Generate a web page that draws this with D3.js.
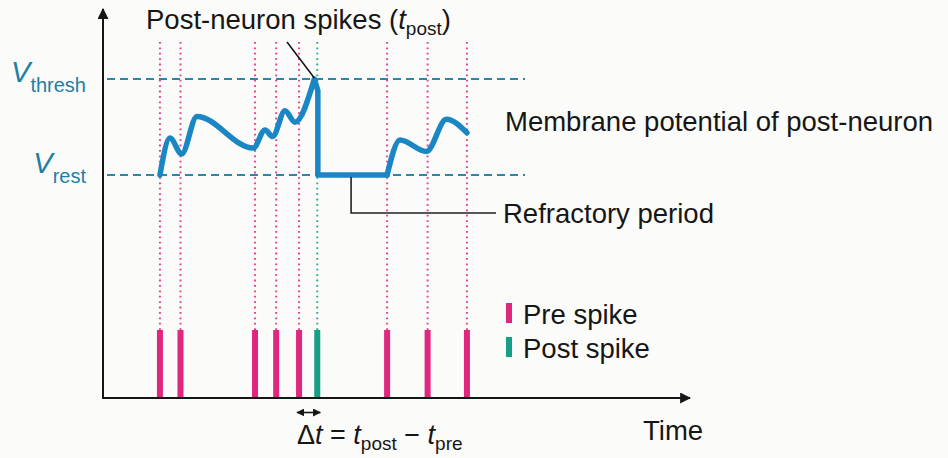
<!DOCTYPE html>
<html>
<head>
<meta charset="utf-8">
<script src="https://cdn.jsdelivr.net/npm/d3@7"></script>
<style>
  html, body { margin: 0; padding: 0; background: #fbfbf9; }
  svg { display: block; font-family: "Liberation Sans", Arial, Helvetica, sans-serif; }
</style>
</head>
<body>
<svg id="chart" width="948" height="458"></svg>
<script>
// Spike times (ms) of the presynaptic and postsynaptic neurons
const preSpikes = [9.7, 13.2, 25.9, 29.5, 33.4, 48.4, 55.3, 62.0];
const postSpikes = [36.5];

// Membrane potential of the post-neuron, normalised: 0 = V_rest, 1 = V_thresh
const membraneRise = [
  [9.7, 0], [11.4, 0.385], [13.4, 0.22], [16.0, 0.61], [25.6, 0.28],
  [27.6, 0.47], [28.9, 0.40], [31.0, 0.67], [32.7, 0.55], [36.0, 1.0]
];
const membraneReset = [[36.6, 0.88], [36.6, 0], [48.4, 0]];
const membraneRecover = [
  [48.4, 0], [50.6, 0.365], [55.1, 0.245], [58.5, 0.58], [62.0, 0.44]
];

const refractory = [36.6, 48.4];
const potentialLevels = [
  { name: "thresh", v: 1 },
  { name: "rest", v: 0 }
];
const legendItems = [
  { label: "Pre spike", kind: "pre" },
  { label: "Post spike", kind: "post" }
];

const colors = {
  pre: "#e0267f",
  post: "#159f86",
  potential: "#1a86c3",
  level: "#2a87a8",
  ink: "#161616"
};

const svg = d3.select("#chart");

const x = d3.scaleLinear().domain([0, 100]).range([103, 690]);
const y = d3.scaleLinear().domain([0, 1]).range([175, 79]);

const axisY = 398;      // time axis position
const rasterTop = 330;  // top of spike raster bars
const guideTop = 42;    // top of the dotted spike guides
const labelSize = 27.5;

// Arrowheads
const defs = svg.append("defs");
defs.append("marker")
  .attr("id", "axisHead").attr("viewBox", "0 0 10 10")
  .attr("refX", 9).attr("refY", 5)
  .attr("markerWidth", 5.5).attr("markerHeight", 5.5)
  .attr("markerUnits", "strokeWidth").attr("orient", "auto")
  .append("path").attr("d", "M0,0 L10,5 L0,10 Z").attr("fill", colors.ink);
defs.append("marker")
  .attr("id", "smallHead").attr("viewBox", "0 0 10 10")
  .attr("refX", 9).attr("refY", 5)
  .attr("markerWidth", 5).attr("markerHeight", 5)
  .attr("markerUnits", "strokeWidth").attr("orient", "auto-start-reverse")
  .append("path").attr("d", "M0,0 L10,5 L0,10 Z").attr("fill", colors.ink);

// Dotted guides from each spike
svg.append("g").selectAll("line.pre")
  .data(preSpikes).join("line")
  .attr("x1", d => x(d)).attr("x2", d => x(d))
  .attr("y1", guideTop).attr("y2", rasterTop)
  .attr("stroke", colors.pre).attr("stroke-width", 2)
  .attr("stroke-dasharray", "1.8,3.6").attr("opacity", 0.85);
svg.append("g").selectAll("line.post")
  .data(postSpikes).join("line")
  .attr("x1", d => x(d)).attr("x2", d => x(d))
  .attr("y1", guideTop).attr("y2", rasterTop)
  .attr("stroke", colors.post).attr("stroke-width", 2)
  .attr("stroke-dasharray", "1.8,3.6").attr("opacity", 0.85);

// V_thresh / V_rest dashed levels
svg.append("g").selectAll("line")
  .data(potentialLevels).join("line")
  .attr("x1", 107).attr("x2", 525)
  .attr("y1", d => y(d.v)).attr("y2", d => y(d.v))
  .attr("stroke", colors.level).attr("stroke-width", 2)
  .attr("stroke-dasharray", "8,5");

// Level labels
const levelLabel = svg.append("g").selectAll("text")
  .data(potentialLevels).join("text")
  .attr("x", 86).attr("y", d => y(d.v) + (d.v === 1 ? 3 : -2))
  .attr("text-anchor", "end")
  .attr("fill", "#1e7fa6");
levelLabel.append("tspan")
  .attr("font-size", 29).attr("font-style", "italic").text("V");
levelLabel.append("tspan")
  .attr("font-size", 20).attr("dy", 10).text(d => d.name);

// Membrane potential trace
const smooth = d3.line().x(d => x(d[0])).y(d => y(d[1])).curve(d3.curveMonotoneX);
const straight = d3.line().x(d => x(d[0])).y(d => y(d[1]));
const tracePath = smooth(membraneRise)
  + straight(membraneReset).replace(/^M/, "L");
svg.append("path")
  .attr("d", tracePath)
  .attr("fill", "none").attr("stroke", colors.potential)
  .attr("stroke-width", 5.5).attr("stroke-linejoin", "round").attr("stroke-linecap", "round");
svg.append("path")
  .attr("d", smooth(membraneRecover))
  .attr("fill", "none").attr("stroke", colors.potential)
  .attr("stroke-width", 5.5).attr("stroke-linejoin", "round").attr("stroke-linecap", "round");

// Refractory period leader
const refMid = x(refractory[0]) + (x(refractory[1]) - x(refractory[0])) * 0.48;
svg.append("path")
  .attr("d", `M${refMid},${y(0) + 2} V213 H496`)
  .attr("fill", "none").attr("stroke", "#222").attr("stroke-width", 1.6);
svg.append("text")
  .attr("x", 503).attr("y", 223).attr("font-size", labelSize).attr("fill", colors.ink)
  .text("Refractory period");

// Post-neuron spike leader and title
svg.append("line")
  .attr("x1", 287).attr("y1", 42)
  .attr("x2", x(36.0)).attr("y2", y(1) - 1)
  .attr("stroke", "#111").attr("stroke-width", 1.5);
const title = svg.append("text")
  .attr("x", 146).attr("y", 29).attr("font-size", labelSize).attr("fill", colors.ink);
title.append("tspan").text("Post-neuron spikes (");
title.append("tspan").attr("font-style", "italic").text("t");
title.append("tspan").attr("font-size", 19).attr("dy", 6).text("post");
title.append("tspan").attr("dy", -6).text(")");

svg.append("text")
  .attr("x", 505).attr("y", 131).attr("font-size", labelSize).attr("fill", colors.ink)
  .text("Membrane potential of post-neuron");

// Spike raster
svg.append("g").selectAll("rect")
  .data(preSpikes.map(t => ({ t, kind: "pre" })).concat(postSpikes.map(t => ({ t, kind: "post" }))))
  .join("rect")
  .attr("x", d => x(d.t) - 3).attr("width", 6)
  .attr("y", rasterTop).attr("height", axisY - rasterTop)
  .attr("fill", d => colors[d.kind]);

// Axes
svg.append("line")
  .attr("x1", 103).attr("y1", axisY).attr("x2", 103).attr("y2", 9)
  .attr("stroke", colors.ink).attr("stroke-width", 2).attr("marker-end", "url(#axisHead)");
svg.append("line")
  .attr("x1", 102).attr("y1", axisY).attr("x2", 690).attr("y2", axisY)
  .attr("stroke", colors.ink).attr("stroke-width", 2).attr("marker-end", "url(#axisHead)");
svg.append("text")
  .attr("x", 643).attr("y", 440).attr("font-size", labelSize).attr("fill", colors.ink)
  .text("Time");

// Legend
const legend = svg.append("g").selectAll("g")
  .data(legendItems).join("g")
  .attr("transform", (d, i) => `translate(506,${303 + i * 34})`);
legend.append("rect")
  .attr("width", 6).attr("height", 20)
  .attr("fill", d => colors[d.kind]);
legend.append("text")
  .attr("x", 17).attr("y", 21).attr("font-size", labelSize).attr("fill", colors.ink)
  .text(d => d.label);

// Δt between the last pre spike and the post spike
const lastPre = preSpikes.filter(t => t < postSpikes[0]).pop();
svg.append("line")
  .attr("x1", x(lastPre) - 2).attr("x2", x(postSpikes[0]) + 3)
  .attr("y1", 412.5).attr("y2", 412.5)
  .attr("stroke", colors.ink).attr("stroke-width", 1.6)
  .attr("marker-start", "url(#smallHead)").attr("marker-end", "url(#smallHead)");
const dt = svg.append("text")
  .attr("x", 297).attr("y", 444).attr("font-size", 27).attr("fill", colors.ink);
dt.append("tspan").text("Δ");
dt.append("tspan").attr("font-style", "italic").text("t");
dt.append("tspan").text(" = ");
dt.append("tspan").attr("font-style", "italic").text("t");
dt.append("tspan").attr("font-size", 19).attr("dy", 6).text("post");
dt.append("tspan").attr("dy", -6).text(" − ");
dt.append("tspan").attr("font-style", "italic").text("t");
dt.append("tspan").attr("font-size", 19).attr("dy", 6).text("pre");
</script>
</body>
</html>
